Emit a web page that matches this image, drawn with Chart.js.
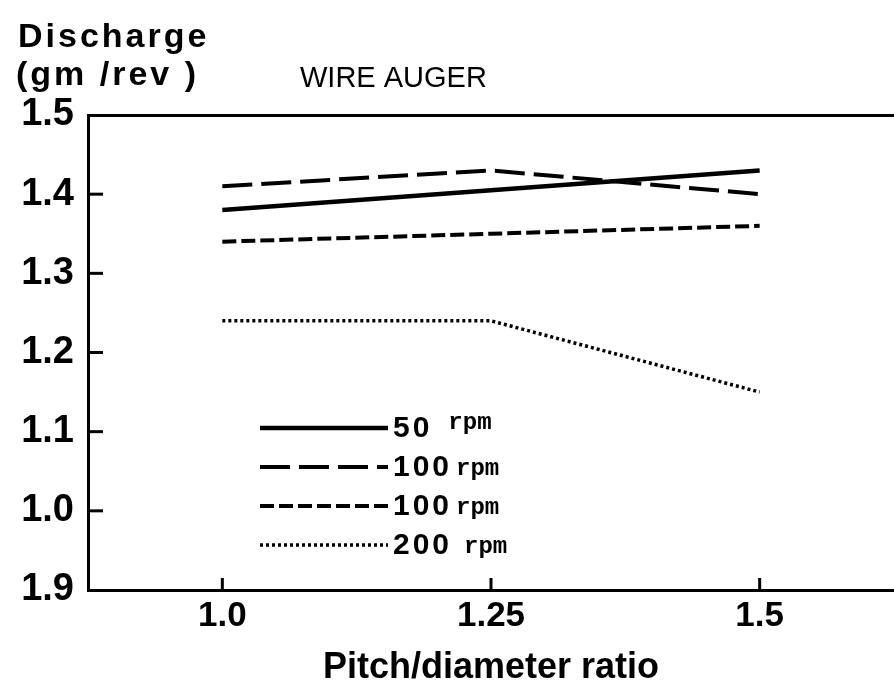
<!DOCTYPE html>
<html>
<head>
<meta charset="utf-8">
<script src="https://cdn.jsdelivr.net/npm/chart.js@4/dist/chart.umd.min.js"></script>
<style>
  html, body { margin: 0; padding: 0; background: #fff; }
</style>
</head>
<body>
<canvas id="augerChart" width="894" height="690"></canvas>
<script>
// pitch / diameter ratios tested
const pitchRatios = [1.0, 1.25, 1.5];
const xTickLabels = ["1.0", "1.25", "1.5"];

// y axis ticks (bottom label printed as "1.9" on the original plot)
const yTickValues = [0.9, 1.0, 1.1, 1.2, 1.3, 1.4, 1.5];
const yTickLabels = ["1.9", "1.0", "1.1", "1.2", "1.3", "1.4", "1.5"];

// discharge in gm/rev for each auger speed
const rpm50 = [1.38, 1.405, 1.43];
const rpm100a = [1.41, 1.43, 1.40];
const rpm100b = [1.34, 1.35, 1.36];
const rpm200 = [1.24, 1.24, 1.15];

const speedLabels = ["50", "100", "100", "200"];
const unitLabel = "rpm";

const lineStyles = [
  { dash: [], width: 4.5 },
  { dash: [30, 9], width: 4 },
  { dash: [14, 5], width: 4 },
  { dash: [3, 3], width: 3.5 },
];

function makeSet(name, values, i) {
  return {
    label: name + " " + unitLabel,
    data: values.map((v, k) => ({ x: pitchRatios[k], y: v })),
    borderColor: "#000",
    borderWidth: lineStyles[i].width,
    borderDash: lineStyles[i].dash,
    pointRadius: 0,
    tension: 0,
    fill: false,
    xAxisID: "x",
    yAxisID: "y",
  };
}

const seriesValues = [rpm50, rpm100a, rpm100b, rpm200];

// inward tick marks, headings and the hand-drawn style key
const paperMarks = {
  id: "paperMarks",
  afterDraw(chart) {
    const ctx = chart.ctx;
    const xs = chart.scales.x;
    const ys = chart.scales.y;
    const area = chart.chartArea;

    ctx.save();
    ctx.strokeStyle = "#000";
    ctx.lineWidth = 3;
    ctx.setLineDash([]);
    yTickValues.slice(1, -1).forEach((v) => {
      const py = ys.getPixelForValue(v);
      ctx.beginPath();
      ctx.moveTo(area.left, py);
      ctx.lineTo(area.left + 15, py);
      ctx.stroke();
    });
    pitchRatios.forEach((v) => {
      const px = xs.getPixelForValue(v);
      ctx.beginPath();
      ctx.moveTo(px, area.bottom);
      ctx.lineTo(px, area.bottom - 12);
      ctx.stroke();
    });

    ctx.fillStyle = "#000";
    ctx.textBaseline = "alphabetic";
    ctx.textAlign = "left";
    ctx.letterSpacing = "3px";
    ctx.font = "bold 34px 'Liberation Sans'";
    ctx.fillText("Discharge", 18, 47);
    ctx.fillText("(gm /rev )", 16, 85);
    ctx.letterSpacing = "0px";
    ctx.font = "29px 'Liberation Sans'";
    ctx.fillText("WIRE AUGER", 300, 87);

    // key
    const keyLeft = 260, keyRight = 388, rowTop = 428, rowGap = 39;
    const unitGap = [16, 4, 4, 12];
    const unitRise = [-5, 2, 2, 2];
    chart.data.datasets.forEach((ds, i) => {
      const y = rowTop + i * rowGap;
      ctx.lineWidth = ds.borderWidth;
      ctx.setLineDash(ds.borderDash);
      ctx.beginPath();
      ctx.moveTo(keyLeft, y);
      ctx.lineTo(keyRight, y);
      ctx.stroke();
      ctx.letterSpacing = "3px";
      ctx.font = "bold 30px 'Liberation Sans'";
      ctx.textBaseline = "middle";
      ctx.fillText(speedLabels[i], keyRight + 5, y + 1);
      const w = ctx.measureText(speedLabels[i]).width;
      ctx.letterSpacing = "0px";
      ctx.font = "bold 24px 'Liberation Mono'";
      ctx.fillText(unitLabel, keyRight + 5 + w + unitGap[i], y + unitRise[i]);
    });
    ctx.restore();
  },
};

const ctx1 = document.getElementById("augerChart").getContext("2d");

const augerChart = new Chart(ctx1, {
  type: "line",
  data: {
    datasets: seriesValues.map((vals, i) => makeSet(speedLabels[i], vals, i)),
  },
  options: {
    responsive: false,
    animation: false,
    layout: { padding: { top: 115, left: 0, right: 0, bottom: 0 } },
    plugins: {
      legend: { display: false },
      tooltip: { enabled: false },
    },
    scales: {
      x: {
        type: "linear",
        position: "bottom",
        min: 0.875,
        max: 1.625,
        afterBuildTicks: (scale) => {
          scale.ticks = pitchRatios.map((v) => ({ value: v }));
        },
        afterFit: (scale) => {
          scale.height = 100;
        },
        ticks: {
          color: "#000",
          padding: 5,
          font: { family: "Liberation Sans", size: 35, weight: "bold" },
          callback: (value, index) => xTickLabels[index],
        },
        grid: { display: false, drawTicks: false },
        border: { display: true, color: "#000", width: 3 },
        title: {
          display: true,
          text: "Pitch/diameter ratio",
          color: "#000",
          font: { family: "Liberation Sans", size: 36, weight: "bold" },
          padding: { top: 0, bottom: 0 },
        },
      },
      xTop: {
        type: "linear",
        position: "top",
        min: 0.875,
        max: 1.625,
        ticks: { display: false },
        grid: { display: false, drawTicks: false },
        border: { display: true, color: "#000", width: 3 },
        afterFit: (scale) => {
          scale.height = 0;
        },
      },
      y: {
        type: "linear",
        min: 0.9,
        max: 1.5,
        afterBuildTicks: (scale) => {
          scale.ticks = yTickValues.map((v) => ({ value: v }));
        },
        afterFit: (scale) => {
          scale.width = 88;
        },
        ticks: {
          color: "#000",
          padding: 14,
          font: { family: "Liberation Sans", size: 38, weight: "bold" },
          callback: (value, index) => yTickLabels[index],
        },
        grid: { display: false, drawTicks: false },
        border: { display: true, color: "#000", width: 3 },
      },
    },
  },
  plugins: [paperMarks],
});
</script>
</body>
</html>
